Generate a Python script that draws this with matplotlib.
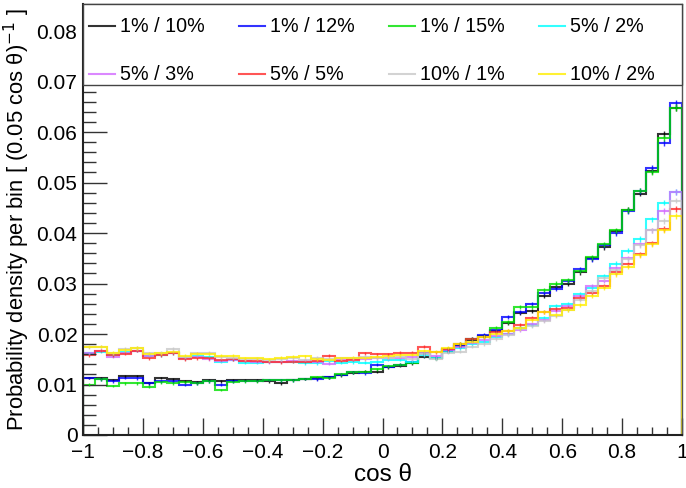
import numpy as np
import matplotlib
matplotlib.use("Agg")
import matplotlib.pyplot as plt
from matplotlib.ticker import MultipleLocator
from matplotlib.lines import Line2D
from matplotlib.patches import Rectangle

plt.rcParams['font.family'] = ['Liberation Sans', 'DejaVu Sans']

# 50 bins in cos(theta)
bin_edges = np.linspace(-1.0, 1.0, 51)

labels = ["1% / 10%", "1% / 12%", "1% / 15%", "5% / 2%",
          "5% / 3%", "5% / 5%", "10% / 1%", "10% / 2%"]
colors = ["#000000", "#0000ff", "#00e000", "#00ffff",
          "#d36bff", "#ff2a2a", "#c8c8c8", "#ffee00"]

p1_10 = [.0113, .0112, .0109, .0116, .0117, .0102, .0113, .0110, .0106, .0104,
         .0109, .0106, .0109, .0109, .0108, .0106, .0102, .0109, .0111, .0112,
         .0114, .0118, .0123, .0125, .0125, .0134, .0137, .0142, .0155, .0152,
         .0166, .0176, .0188, .0196, .0205, .0221, .0241, .0246, .0275, .0294,
         .0300, .0322, .0350, .0372, .0403, .0446, .0478, .0522, .0596, .0648]
p1_12 = [.0113, .0110, .0106, .0113, .0112, .0102, .0106, .0106, .0100, .0102,
         .0106, .0100, .0106, .0107, .0107, .0109, .0108, .0108, .0111, .0110,
         .0114, .0119, .0124, .0122, .0139, .0135, .0139, .0145, .0160, .0153,
         .0168, .0178, .0190, .0198, .0207, .0233, .0244, .0259, .0281, .0290,
         .0305, .0328, .0348, .0376, .0400, .0444, .0483, .0529, .0578, .0657]
p1_15 = [.0100, .0110, .0097, .0102, .0102, .0096, .0104, .0102, .0104, .0102,
         .0106, .0089, .0105, .0106, .0106, .0109, .0108, .0108, .0111, .0115,
         .0113, .0120, .0124, .0125, .0130, .0136, .0139, .0143, .0162, .0152,
         .0170, .0180, .0191, .0195, .0212, .0223, .0254, .0254, .0287, .0300,
         .0306, .0325, .0352, .0378, .0405, .0446, .0484, .0520, .0588, .0648]
p5_2 = [.0162, .0165, .0158, .0165, .0167, .0157, .0158, .0162, .0152, .0157,
        .0155, .0145, .0149, .0143, .0143, .0145, .0145, .0145, .0142, .0142,
        .0146, .0143, .0144, .0143, .0145, .0149, .0149, .0145, .0158, .0152,
        .0165, .0172, .0180, .0185, .0195, .0200, .0212, .0218, .0232, .0255,
        .0259, .0279, .0292, .0315, .0339, .0365, .0388, .0427, .0460, .0481]
p5_3 = [.0162, .0167, .0155, .0163, .0167, .0157, .0160, .0163, .0152, .0155,
        .0150, .0147, .0149, .0147, .0145, .0144, .0145, .0147, .0147, .0145,
        .0141, .0149, .0150, .0150, .0152, .0152, .0153, .0155, .0163, .0156,
        .0168, .0175, .0183, .0188, .0197, .0200, .0207, .0220, .0228, .0245,
        .0256, .0275, .0295, .0305, .0330, .0350, .0378, .0405, .0444, .0481]
p5_5 = [.0158, .0167, .0158, .0161, .0167, .0152, .0158, .0162, .0150, .0152,
        .0152, .0149, .0150, .0147, .0147, .0145, .0144, .0145, .0145, .0147,
        .0157, .0147, .0149, .0162, .0160, .0160, .0163, .0163, .0175, .0164,
        .0170, .0180, .0191, .0194, .0204, .0206, .0218, .0231, .0244, .0250,
        .0252, .0272, .0281, .0295, .0322, .0338, .0358, .0380, .0408, .0448]
p10_1 = [.0174, .0175, .0162, .0170, .0172, .0162, .0163, .0170, .0155, .0162,
         .0163, .0154, .0153, .0150, .0151, .0148, .0150, .0152, .0149, .0153,
         .0150, .0152, .0152, .0155, .0152, .0153, .0155, .0150, .0160, .0150,
         .0163, .0165, .0175, .0180, .0190, .0198, .0210, .0215, .0225, .0235,
         .0248, .0268, .0285, .0310, .0326, .0348, .0376, .0405, .0424, .0464]
p10_2 = [.0175, .0175, .0163, .0168, .0172, .0161, .0162, .0165, .0157, .0161,
         .0161, .0157, .0157, .0152, .0152, .0150, .0153, .0155, .0156, .0150,
         .0149, .0152, .0153, .0152, .0155, .0156, .0158, .0159, .0167, .0165,
         .0173, .0180, .0185, .0194, .0200, .0206, .0212, .0228, .0244, .0238,
         .0248, .0257, .0275, .0292, .0318, .0333, .0356, .0378, .0405, .0434]

series = [p1_10, p1_12, p1_15, p5_2, p5_3, p5_5, p10_1, p10_2]
n_events = 150000  # events per sample, sets the statistical error bars

W, H = 686, 488
fig = plt.figure(figsize=(W / 100, H / 100), dpi=100)
ax = fig.add_axes([83 / W, 53 / H, 599 / W, 431 / H])

centers = 0.5 * (bin_edges[:-1] + bin_edges[1:])
for vals, col in zip(series, colors):
    v = np.asarray(vals)
    err = np.sqrt(v / n_events)
    ax.stairs(v, bin_edges, color=col, lw=1.5, alpha=0.8)
    ax.errorbar(centers, v, yerr=err, fmt='none', ecolor=col, elinewidth=1.0,
                alpha=0.8, capsize=0)

ax.set_xlim(-1, 1)
ax.set_ylim(0, 431 / 5050)

ax.xaxis.set_major_locator(MultipleLocator(0.2))
ax.xaxis.set_minor_locator(MultipleLocator(0.05))
ax.yaxis.set_major_locator(MultipleLocator(0.01))
ax.yaxis.set_minor_locator(MultipleLocator(0.002))
ax.tick_params(axis='both', which='both', direction='in', top=False, right=False,
               labelsize=15, width=1.0, color='#333333')
ax.tick_params(axis='x', which='major', length=12, pad=6)
ax.tick_params(axis='x', which='minor', length=6)
ax.tick_params(axis='y', which='major', length=17, pad=4)
ax.tick_params(axis='y', which='minor', length=9)


def fmt_x(x, pos):
    if abs(x) < 1e-9:
        return "0"
    s = f"{x:.1f}".rstrip('0').rstrip('.')
    return s.replace('-', '\u2212')


def fmt_y(y, pos):
    if abs(y) < 1e-12:
        return "0"
    return f"{y:.2f}"


ax.xaxis.set_major_formatter(plt.FuncFormatter(fmt_x))
ax.yaxis.set_major_formatter(plt.FuncFormatter(fmt_y))

for side in ('left', 'bottom'):
    ax.spines[side].set_linewidth(1.5)
    ax.spines[side].set_color('#222222')
for side in ('top', 'right'):
    ax.spines[side].set_linewidth(1.0)
    ax.spines[side].set_color('#555555')

ax.set_xlabel("cos \u03b8", fontsize=17.5, labelpad=1)
ax.set_ylabel("Probability density per bin [ (0.05 cos \u03b8)$^{-1}$ ]",
              fontsize=15.8, labelpad=3)

# legend box across the top of the frame, 4 columns x 2 rows
fig.add_artist(Rectangle((83 / W, 1 - 85 / H), 599 / W, 81 / H,
                         transform=fig.transFigure, facecolor='white',
                         edgecolor='#444444', lw=1.0, zorder=5))
col_x = [89, 239, 389, 539]
row_y = [26, 74]
for i, (lab, col) in enumerate(zip(labels, colors)):
    r, c = divmod(i, 4)
    x0 = col_x[c]
    y0 = 1 - row_y[r] / H
    fig.add_artist(Line2D([x0 / W, (x0 + 26) / W], [y0, y0],
                          transform=fig.transFigure, color=col, lw=1.5,
                          alpha=0.8, zorder=6))
    fig.text((x0 + 31) / W, y0, lab, fontsize=14.2, va='center', ha='left',
             zorder=6)

fig.savefig("out.png", dpi=100)
